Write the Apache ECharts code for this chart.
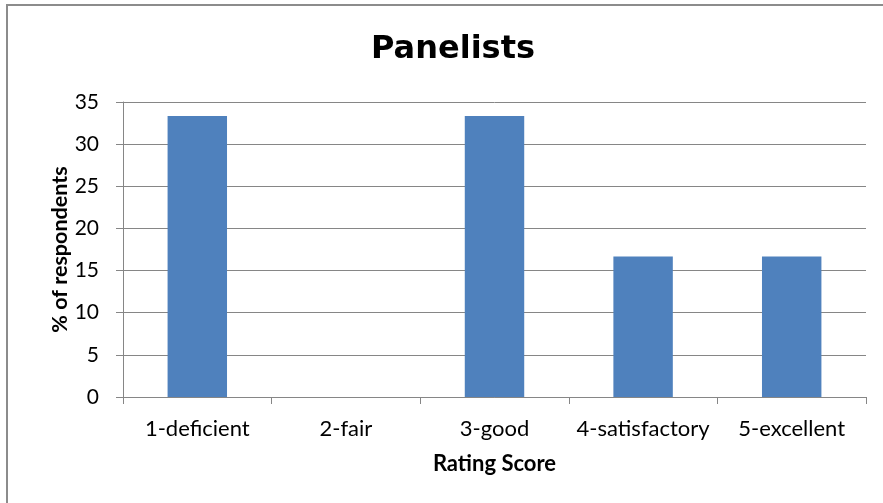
<!DOCTYPE html>
<html>
<head>
<meta charset="utf-8">
<script src="https://cdn.jsdelivr.net/npm/echarts@6/dist/echarts.min.js"></script>
<style>html,body{margin:0;padding:0;background:#fff}#c{width:883px;height:503px}</style>
</head>
<body>
<div id="c"></div>
<script>
const categories = ['1-deficient', '2-fair', '3-good', '4-satisfactory', '5-excellent'];
const values = [33.33, 0, 33.33, 16.67, 16.67];
const yTicks = { min: 0, max: 35, interval: 5 };

const FONT = 'Lato, "Open Sans", sans-serif';
const chart = echarts.init(document.getElementById('c'), null, { renderer: 'canvas' });
chart.setOption({
  animation: false,
  backgroundColor: '#fff',
  graphic: [{
    type: 'rect',
    shape: { x: 7, y: 5, width: 900, height: 520 },
    style: { fill: 'none', stroke: '#8c8c8c', lineWidth: 2 },
    silent: true
  }],
  title: {
    text: 'Panelists',
    left: 366,
    top: 29,
    textStyle: { fontFamily: '"DejaVu Sans", sans-serif', fontSize: 32, fontWeight: 'bold', color: '#000' }
  },
  grid: { left: 123, right: 17, top: 102, bottom: 106 },
  xAxis: {
    type: 'category',
    data: categories,
    name: 'Rating Score',
    nameLocation: 'middle',
    nameGap: 56,
    nameMoveOverlap: false,
    nameTextStyle: { fontFamily: FONT, fontSize: 22, fontWeight: 'bold', color: '#000' },
    axisLine: { lineStyle: { color: '#868686', width: 1 } },
    axisTick: { show: true, length: 7, alignWithLabel: false, lineStyle: { color: '#868686' } },
    axisLabel: { fontFamily: FONT, fontSize: 22, color: '#000', margin: 21, interval: 0 }
  },
  yAxis: {
    type: 'value',
    min: yTicks.min, max: yTicks.max, interval: yTicks.interval,
    name: '% of respondents',
    nameLocation: 'middle',
    nameGap: 52,
    nameMoveOverlap: false,
    nameTextStyle: { fontFamily: FONT, fontSize: 21.5, fontWeight: 'bold', color: '#000' },
    axisLine: { show: true, lineStyle: { color: '#868686', width: 1 } },
    axisTick: { show: true, length: 7, lineStyle: { color: '#868686' } },
    axisLabel: { fontFamily: FONT, fontSize: 21, color: '#000', margin: 24 },
    splitLine: { lineStyle: { color: '#868686', width: 1 } }
  },
  series: [{
    type: 'bar',
    data: values,
    barWidth: '40%',
    itemStyle: { color: '#4F81BD' }
  }]
});
</script>
</body>
</html>
